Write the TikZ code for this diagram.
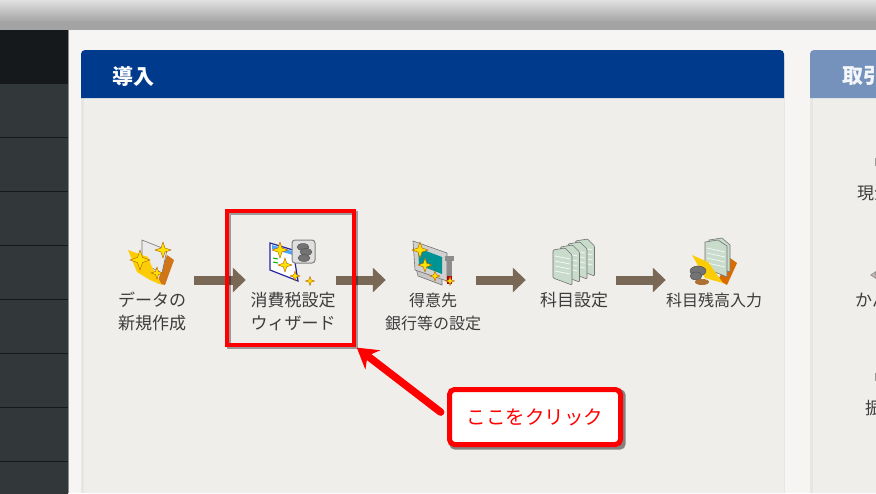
\documentclass[tikz,border=0pt]{standalone}
\usepackage{fontspec}
\setmainfont{Noto Sans CJK JP}
\usetikzlibrary{arrows.meta}
\definecolor{pagebg}{HTML}{F6F5F3}
\definecolor{panelbg}{HTML}{F0EEEB}
\definecolor{panelline}{HTML}{E6E6E3}
\definecolor{headblue}{HTML}{003A8C}
\definecolor{headpale}{HTML}{7492BB}
\definecolor{sidedark}{HTML}{15191C}
\definecolor{siderow}{HTML}{32373A}
\definecolor{flowbrown}{HTML}{7A6857}
\definecolor{labelgray}{HTML}{3C3C3C}
\definecolor{sheetgreen}{HTML}{C9DCCB}
\newcommand{\sparkle}[3]{%
  \begin{scope}[shift={(#1,#2)},scale=#3]
    \fill[sparklefill] (0,-1) -- (.25,-.25) -- (1,0) -- (.25,.25) -- (0,1) -- (-.25,.25) -- (-1,0) -- (-.25,-.25) -- cycle;
  \end{scope}}
\tikzset{
  sparklefill/.style={fill=yellow!85!orange, draw=orange!70!black, line width=.4pt},
  steplbl/.style={inner sep=0pt, align=center, text=labelgray, font=\fontsize{17}{23}\selectfont},
  steplblwide/.style={steplbl, font=\fontsize{16}{23}\selectfont},
  stepdot/.style={minimum width=86pt, minimum height=10pt, inner sep=0pt},
  flowline/.style={-{Triangle[length=13pt,width=24pt]}, line width=9pt, color=flowbrown, shorten >=4pt},
  headlbl/.style={inner sep=0pt, anchor=west, font=\fontsize{21}{24}\selectfont\bfseries},
  redline/.style={draw=red, line width=4pt},
  shadowline/.style={draw=black, opacity=.35, line width=4pt},
  iconline/.style={draw=black!55, line width=.6pt},
  coin/.style={fill=black!55, draw=black!70, line width=.4pt}
}
\begin{document}
\begin{tikzpicture}[x=1pt,y=-1pt]
  \useasboundingbox (0,0) rectangle (876,493);
  \clip (0,0) rectangle (876,493);
  \fill[pagebg] (0,0) rectangle (876,493);
  % -- top bar --
  \shade[top color=black!12, bottom color=black!36] (0,0) rectangle (876,22);
  \fill[black!36] (0,22) rectangle (876,30);
  % -- side menu --
  \fill[sidedark] (0,30) rectangle (68,83);
  \foreach \y in {83,137,191,245,299,353,407,461} {
    \fill[siderow] (0,\y) rectangle (68,\y+54);
    \draw[sidedark, line width=.8pt] (0,\y) -- (68,\y);
  }
  \draw[black!45, line width=.8pt] (68.4,30) -- (68.4,493);
  % -- first panel --
  \fill[panelline] (81,60) rectangle (785,493);
  \fill[panelbg] (83.5,98) rectangle (784,493);
  \fill[headblue] (81,98) [rounded corners=4pt] -- (81,50) -- (784,50) [sharp corners] -- (784,98) -- cycle;
  \node[headlbl, text=white] (headA) at (112,76) {導入};
  % -- second panel --
  \fill[panelline] (810,60) rectangle (876,493);
  \fill[panelbg] (812.5,98) rectangle (876,493);
  \fill[headpale] (810,98) [rounded corners=4pt] -- (810,50) -- (880,50) [sharp corners] -- (880,98) -- cycle;
  \node[headlbl, text=white!92!headpale] (headB) at (842,76) {取引};
  \node[steplbl, anchor=west] (rowA) at (857,193) {現金};
  \node[steplbl, anchor=west] (rowB) at (855,300) {かん};
  \node[steplbl, anchor=west] (rowC) at (865,408) {振替};
  \fill[black!40] (875,158) rectangle (877,166);
  \fill[black!40] (876,271) -- (870,275) -- (876,279) -- cycle;
  \fill[pink!70!black!60] (874,273) -- (872,275) -- (876,277) -- cycle;
  \fill[black!40] (875,373) rectangle (877,381);

  % -- new data icon --
  \fill[orange!80!black!90] (167,255) -- (174,260) -- (165,285) -- (157,283) -- cycle;
  \filldraw[iconline, fill=white!92!black] (142,240) -- (167,250) -- (162,273) -- (142,263) -- cycle;
  \fill[yellow!65!orange] (128,250) -- (148,257) -- (152,267) -- (162,285) -- (150,280) -- (137,272) -- cycle;
  \sparkle{140}{260}{10}
  \sparkle{163}{250}{8}
  \sparkle{157}{273}{6}
  % -- tax wizard icon --
  \filldraw[draw=blue!55!black!85, fill=white, line width=1.2pt] (270,243) -- (293,250) -- (298,281) -- (270,270) -- cycle;
  \fill[blue!50!cyan!70] (272,245) -- (292,251) -- (293,255) -- (272,249) -- cycle;
  \draw[green!70!black, line width=1pt] (273,258) -- (278,259) (273,262) -- (278,263);
  \sparkle{280}{250}{8}
  \sparkle{285}{265}{7}
  \sparkle{295}{276}{5}
  \sparkle{310}{281}{4.5}
  \filldraw[draw=black!50, fill=black!12, line width=1pt, rounded corners=3pt] (292,240) rectangle (315,263);
  \fill[coin] (303,247) ellipse (6 and 3.5);
  \fill[coin] (306,252) ellipse (6 and 3.5);
  \fill[coin] (304,258) ellipse (6 and 3.5);
  % -- bank icon --
  \filldraw[iconline, fill=black!22] (415,264) -- (442,276) -- (442,285) -- (418,276) -- cycle;
  \filldraw[iconline, fill=black!18] (413,241) -- (447,253) -- (447,281) -- (415,270) -- cycle;
  \fill[teal!85!cyan] (418,248) -- (442,257) -- (442,274) -- (419,265) -- cycle;
  \fill[black!45] (447,256) rectangle (452,278);
  \fill[black!45] (445,256) rectangle (454,261);
  \fill[red!70!black] (447,276) rectangle (452,284);
  \sparkle{420}{250}{8}
  \sparkle{425}{265}{7}
  \sparkle{435}{276}{5}
  \sparkle{450}{281}{4.5}
  % -- account sheets icon --
  \foreach \i in {3,2,1,0} {
    \begin{scope}[shift={(\i*7.5,-\i*3)}]
      \filldraw[iconline, fill=sheetgreen, rounded corners=1pt] (553,250) -- (565,248) -- (572,255) -- (572,285) -- (553,278) -- cycle;
      \foreach \y in {256,261,266,271} {
        \draw[white!80!sheetgreen, line width=.7pt] (555,\y) -- (570,\y+3);
      }
    \end{scope}
  }
  % -- opening balance icon --
  \fill[orange!85!black] (730,258) -- (737,263) -- (727,285) -- (718,280) -- cycle;
  \filldraw[iconline, fill=sheetgreen] (709,240) -- (722,238) -- (730,245) -- (730,272) -- (709,265) -- cycle;
  \filldraw[iconline, fill=sheetgreen] (705,242) -- (718,240) -- (727,246) -- (727,277) -- (705,268) -- cycle;
  \foreach \y in {248,253,258,263} {
    \draw[white!80!sheetgreen, line width=.7pt] (707,\y) -- (725,\y+4);
  }
  \fill[yellow!65!orange] (692,255) -- (708,262) -- (723,283) -- (705,278) -- cycle;
  \fill[coin] (698,271) ellipse (8 and 5);
  \fill[coin] (696,276) ellipse (6 and 4);
  \fill[orange!60!black!80] (702,282) ellipse (7 and 3);

  % -- step labels --
  \node[steplbl] (lblA) at (152,311.5) {データの\\新規作成};
  \node[steplbl] (lblB) at (293,311.5) {消費税設定\\ウィザード};
  \node[steplblwide] (lblC) at (433,311.5) {得意先\\銀行等の設定};
  \node[steplbl] (lblD) at (574,300) {科目設定};
  \node[steplblwide] (lblE) at (714,300) {科目残高入力};

  % -- flow arrows --
  \node[stepdot] (stepA) at (151,280) {};
  \node[stepdot] (stepB) at (293,280) {};
  \node[stepdot] (stepC) at (433,280) {};
  \node[stepdot] (stepD) at (573,280) {};
  \node[stepdot] (stepE) at (713,280) {};
  \draw[flowline] (stepA) -- (stepB);
  \draw[flowline] (stepB) -- (stepC);
  \draw[flowline] (stepC) -- (stepD);
  \draw[flowline] (stepD) -- (stepE);

  % -- red marking --
  \draw[shadowline] (229,213) rectangle (356,347);
  \node[redline, minimum width=127pt, minimum height=134pt, inner sep=0pt] (mark) at (290.5,278) {};
  \fill[black, opacity=.45, rounded corners=5pt] (449.5,389.5) rectangle (625.5,449.5);
  \node[redline, line width=5pt, fill=white, rounded corners=5pt, minimum width=171pt, minimum height=55pt, inner sep=0pt, text=red, font=\fontsize{19.5}{24}\selectfont] (callout) at (535,417) {ここをクリック};
  \draw[red, line width=7.5pt, line cap=round, shorten <=8pt, shorten >=1pt, -{Stealth[length=20pt,width=24pt]}] (callout.west) -- (mark.south east);
\end{tikzpicture}
\end{document}
